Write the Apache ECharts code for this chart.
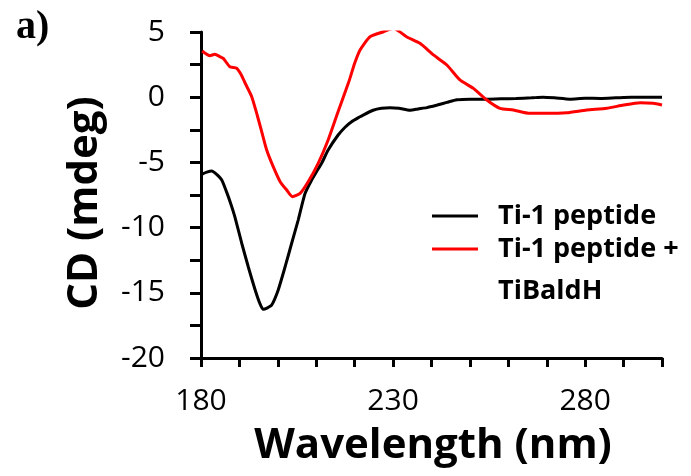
<!DOCTYPE html>
<html>
<head>
<meta charset="utf-8">
<script src="https://cdn.jsdelivr.net/npm/echarts@6/dist/echarts.min.js"></script>
<style>html,body{margin:0;padding:0;background:#fff;}#c{width:691px;height:476px;}</style>
</head>
<body>
<div id="c"></div>
<script>
var peptideWavelength = [180.3,181.5,182.8,184,185.4,186.7,187.9,188.8,190.6,192.3,194.1,195.3,196.2,197.3,198.4,200.1,201.9,203.6,205.3,207.1,208.8,210.1,211.4,213.1,215.7,217.5,219.2,221.4,222.2,224.8,227,229.2,231.5,234.4,236.5,238.8,241.5,244,246.6,250,254,258,262,266,269,272,276,280,284,288,292,296,300];
var peptideCD = [-5.9,-5.75,-5.66,-5.9,-6.35,-7.3,-8.3,-9.16,-11.2,-13.0,-14.78,-15.8,-16.27,-16.15,-15.94,-14.78,-13.0,-11.2,-9.42,-7.37,-6.35,-5.7,-5.07,-4.05,-2.9,-2.3,-1.88,-1.5,-1.37,-1.0,-0.85,-0.8,-0.85,-1.0,-0.9,-0.8,-0.6,-0.4,-0.2,-0.15,-0.15,-0.12,-0.1,-0.05,0.0,-0.05,-0.15,-0.08,-0.1,-0.05,0.0,0.0,0.0];
var complexWavelength = [180.3,182.3,183.6,185,185.8,187.5,189.3,190.5,191.5,193.2,194.5,195.8,197.1,198.8,200.6,202.3,203.8,205.8,207.9,210.5,213.1,215.7,218.5,220,221.4,224,227.5,230.1,233.5,237,240.5,244,247.4,250.9,254.4,257.8,261.3,265.6,270,275.2,280.4,285.6,290,294.3,297.7,300];
var complexCD = [3.54,3.18,3.29,3.1,2.98,2.34,2.22,1.7,1.07,0.04,-1.24,-2.64,-4.05,-5.33,-6.48,-7.12,-7.63,-7.37,-6.48,-5.07,-3.28,-1.1,1.2,2.6,3.62,4.64,5.02,5.28,4.64,4.13,3.24,2.47,1.32,0.68,-0.21,-0.85,-0.98,-1.24,-1.24,-1.19,-0.98,-0.85,-0.6,-0.42,-0.47,-0.6];
var seriesNames = ['Ti-1 peptide', 'Ti-1 peptide +'];
var legendExtraLine = 'TiBaldH';
var xTitle = 'Wavelength (nm)';
var yTitle = 'CD (mdeg)';
var panelLabel = 'a)';

function pairs(xs, ys){ return xs.map(function(x,i){ return [x, ys[i]]; }); }

var chart = echarts.init(document.getElementById('c'), null, {renderer:'canvas'});
var FONT = '"Open Sans", sans-serif';
chart.setOption({
  animation: false,
  backgroundColor: '#fff',
  grid: {left: 201, top: 32, width: 461, height: 326, containLabel: false},
  xAxis: {
    type: 'value', min: 180, max: 300, interval: 10,
    axisLine: {show: true, onZero: false, lineStyle: {color: '#000', width: 3}},
    axisTick: {show: true, inside: false, length: 9, lineStyle: {color: '#000', width: 3}},
    axisLabel: {margin: 28, color: '#000', fontSize: 30, fontFamily: FONT,
      formatter: function(v){ return ((v - 180) % 50 === 0) ? String(v) : ''; }},
    splitLine: {show: false}
  },
  yAxis: {
    type: 'value', min: -20, max: 5, interval: 2.5,
    axisLine: {show: true, onZero: false, lineStyle: {color: '#000', width: 3}},
    axisTick: {show: true, inside: false, length: 11, lineStyle: {color: '#000', width: 3}},
    axisLabel: {margin: 36, color: '#000', fontSize: 30, fontFamily: FONT,
      formatter: function(v){ return (v % 5 === 0) ? String(v) : ''; }},
    splitLine: {show: false}
  },
  legend: {
    orient: 'vertical', left: 432, top: 201, padding: 0,
    icon: 'rect', itemWidth: 46, itemHeight: 3, itemGap: 3,
    data: seriesNames,
    textStyle: {fontSize: 27, fontWeight: 'bold', fontFamily: FONT, color: '#000', lineHeight: 30, padding: [0,0,0,15]}
  },
  graphic: [
    {type: 'text', left: 16, top: 8, style: {text: panelLabel, font: 'bold 40px "Liberation Serif", serif', fill: '#000'}},
    {type: 'text', x: 85, y: 203, rotation: Math.PI/2, style: {text: yTitle, font: 'bold 42px ' + FONT, fill: '#000', textAlign: 'center', textVerticalAlign: 'middle'}},
    {type: 'text', x: 433, y: 446, style: {text: xTitle, font: 'bold 42px ' + FONT, fill: '#000', textAlign: 'center', textVerticalAlign: 'middle'}},
    {type: 'text', x: 498, y: 291, style: {text: legendExtraLine, font: 'bold 27px ' + FONT, fill: '#000', textAlign: 'left', textVerticalAlign: 'middle'}}
  ],
  series: [
    {name: seriesNames[0], type: 'line', data: pairs(peptideWavelength, peptideCD), symbol: 'none', showSymbol: false, smooth: 0.2, lineStyle: {color: '#000', width: 3}, itemStyle: {color: '#000'}},
    {name: seriesNames[1], type: 'line', data: pairs(complexWavelength, complexCD), symbol: 'none', showSymbol: false, smooth: 0.2, lineStyle: {color: '#ff0000', width: 3}, itemStyle: {color: '#ff0000'}}
  ]
});
</script>
</body>
</html>
